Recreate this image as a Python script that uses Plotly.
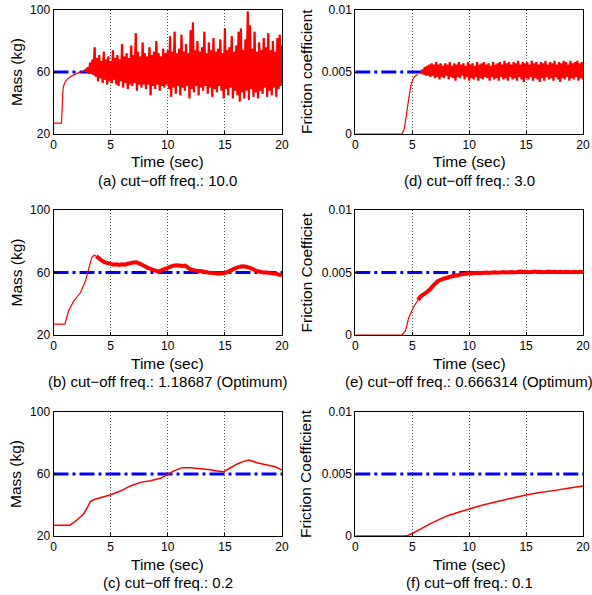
import plotly.graph_objects as go
from plotly.subplots import make_subplots

# (a) mass, cut-off 10.0 : smooth start, then noisy peaks / troughs every 0.2 s from 2.8 s
a_t = [0, 0.7, 0.75, 0.8, 0.85, 0.95, 1.1, 1.3, 1.5, 1.8, 2.1, 2.4, 2.7]
a_mass = [27, 27, 35, 45, 50, 52.5, 54.5, 56, 57, 58.3, 59.3, 60, 60.8]
a_hi = [62, 63, 66, 68, 76, 69, 71, 67, 73, 68, 70, 67, 74, 69, 71, 68, 78, 70, 72, 69,
        77, 71, 85, 73, 70, 79, 72, 70, 76, 71, 73, 80, 72, 70, 75, 72, 74, 83, 73, 86,
        72, 75, 84, 73, 78, 72, 87, 92, 74, 80, 73, 76, 86, 72, 79, 74, 82, 73, 75, 81,
        72, 88, 74, 76, 83, 73, 77, 86, 88, 74, 81, 99, 90, 75, 86, 73, 79, 74, 82, 76,
        85, 74, 80, 73, 82, 84, 77]
a_lo = [60, 59, 59, 58, 57, 54, 56, 53, 55, 52, 54, 53, 55, 52, 51, 54, 50, 53, 49, 52,
        51, 53, 48, 52, 50, 52, 49, 52, 45, 51, 49, 52, 48, 51, 50, 52, 49, 44, 50, 46,
        51, 45, 50, 48, 51, 43, 49, 47, 51, 45, 50, 48, 51, 46, 50, 44, 49, 47, 51, 48,
        43, 49, 45, 50, 43, 48, 45, 41, 47, 43, 48, 42, 49, 44, 47, 43, 48, 46, 50, 44,
        48, 45, 50, 44, 49, 51, 52]

# (b) mass, cut-off 1.18687
b_t = [0, 1.0, 1.3, 1.75, 2.35, 2.8, 3.1, 3.35, 3.55, 3.75]
b_mass = [27, 27, 35, 41.5, 47, 54.5, 63, 69.5, 71, 70.5]
b_noisy = [70.5, 69, 67.5, 66.5, 66, 65.5, 65, 65.3, 64.8, 65.2, 65, 65.6, 66, 66.4, 66.6,
           65.8, 65, 64, 63, 62.4, 61.6, 61, 60.8, 61.5, 62.4, 63, 63.8, 64.4, 64.6, 64.5,
           64.2, 64.4, 63.2, 62, 61.5, 61.2, 61, 60.8, 60.4, 60, 59.8, 59.6, 59.4, 59.2,
           59.3, 59.8, 60.4, 61.2, 62.2, 63, 63.6, 64, 63.8, 63.4, 62.8, 62, 61, 60.6,
           60.2, 60, 60, 59.6, 59.4, 59.2, 58.6, 58.4]

# (c) mass, cut-off 0.2
c_t = [0, 1.45, 2.05, 2.63, 2.92, 3.22, 3.45, 3.65, 4.24, 4.97, 5.85, 6.73, 7.6, 8.48, 9.36,
       9.94, 10.5, 11.26, 12.0, 12.87, 13.74, 14.3, 14.9, 15.35, 16.08, 16.6, 17.1, 17.8,
       18.7, 19.4, 20.0]
c_mass = [27, 27, 30.3, 34.2, 37.8, 42.1, 43.2, 43.7, 45, 46.5, 49, 52.3, 54.6, 55.7, 57.2,
          59.4, 61.9, 64.1, 64.1, 63.4, 62.8, 61.9, 61.5, 63.4, 66.5, 68, 69, 67.3, 65.8,
          64.7, 62.6]

# (d) friction, cut-off 3.0 : noisy peaks / troughs every 0.2 s from 5.7 s
d_t = [0, 4.1, 4.3, 4.5, 4.7, 4.9, 5.1, 5.3, 5.5]
d_fric = [0, 0, 0.0004, 0.0016, 0.0029, 0.0040, 0.0045, 0.0047, 0.0048]
d_hi = [0.0050, 0.0052, 0.0054, 0.0055, 0.0056, 0.0057, 0.0056, 0.0058, 0.0056, 0.0057,
        0.0055, 0.0057, 0.0056, 0.0058, 0.0055, 0.0057, 0.0056, 0.0058, 0.0056, 0.0057,
        0.0055, 0.0058, 0.0056, 0.0057, 0.0055, 0.0058, 0.0056, 0.0057, 0.0058, 0.0056,
        0.0057, 0.0055, 0.0058, 0.0056, 0.0057, 0.0058, 0.0056, 0.0059, 0.0057, 0.0058,
        0.0056, 0.0058, 0.0057, 0.0059, 0.0056, 0.0058, 0.0057, 0.0058, 0.0056, 0.0059,
        0.0057, 0.0058, 0.0056, 0.0058, 0.0057, 0.0059, 0.0056, 0.0058, 0.0057, 0.0059,
        0.0056, 0.0058, 0.0057, 0.0059, 0.0058, 0.0056, 0.0059, 0.0057, 0.0058, 0.0059,
        0.0057, 0.0058]
d_lo = [0.0049, 0.0048, 0.0047, 0.0047, 0.0046, 0.0047, 0.0045, 0.0046, 0.0044, 0.0046,
        0.0045, 0.0047, 0.0044, 0.0046, 0.0045, 0.0043, 0.0046, 0.0045, 0.0047, 0.0044,
        0.0046, 0.0043, 0.0045, 0.0044, 0.0046, 0.0043, 0.0045, 0.0044, 0.0046, 0.0045,
        0.0043, 0.0046, 0.0044, 0.0045, 0.0043, 0.0046, 0.0044, 0.0045, 0.0043, 0.0046,
        0.0044, 0.0045, 0.0043, 0.0046, 0.0044, 0.0042, 0.0045, 0.0044, 0.0046, 0.0043,
        0.0045, 0.0044, 0.0042, 0.0045, 0.0043, 0.0046, 0.0044, 0.0045, 0.0043, 0.0046,
        0.0044, 0.0042, 0.0045, 0.0044, 0.0046, 0.0043, 0.0045, 0.0044, 0.0046, 0.0043,
        0.0045, 0.0044]

# (e) friction, cut-off 0.666314
e_t = [0, 4.1, 4.4, 4.7, 5.1, 5.5]
e_fric = [0, 0, 0.0003, 0.0014, 0.0022, 0.0028]
e_noisy = [0.0028, 0.0031, 0.00325, 0.0034, 0.0036, 0.00385, 0.0041, 0.0043, 0.00442,
           0.0045, 0.00456, 0.00464, 0.0047, 0.00474, 0.00478, 0.00484, 0.00487, 0.0049,
           0.00494, 0.00492, 0.00496, 0.00497, 0.00495, 0.00498, 0.005, 0.00497, 0.005,
           0.00502, 0.00499, 0.00501, 0.00503, 0.005, 0.00502, 0.00504, 0.00501, 0.00505,
           0.00507, 0.00504, 0.00506, 0.00503, 0.00505, 0.00507, 0.00504, 0.00506, 0.00503,
           0.00505, 0.00507, 0.00504, 0.00506, 0.00502, 0.00505, 0.00503, 0.00506, 0.00504,
           0.00502, 0.00505, 0.00503, 0.00506, 0.00504]

# (f) friction, cut-off 0.1
f_t = [0, 4.2, 4.6, 5.0, 5.8, 6.6, 7.3, 8.1, 9.0, 10.0, 11.2, 12.4, 13.7, 15.0, 16.2, 17.4,
       18.7, 20.0]
f_fric = [0, 0, 0.00005, 0.0002, 0.0006, 0.001, 0.0013, 0.00164, 0.0019, 0.00218, 0.0025,
          0.00277, 0.00305, 0.00331, 0.0035, 0.00366, 0.00385, 0.00404]

captions = ["(a) cut\u2212off freq.: 10.0", "(d) cut\u2212off freq.: 3.0",
            "(b) cut\u2212off freq.: 1.18687 (Optimum)", "(e) cut\u2212off freq.: 0.666314 (Optimum)",
            "(c) cut\u2212off freq.: 0.2", "(f) cut\u2212off freq.: 0.1"]
ytitles = ["Mass (kg)", "Friction coefficient", "Mass (kg)", "Friction Coefficiet",
           "Mass (kg)", "Friction Coefficient"]
mass_ref = 60
fric_ref = 0.005

W, H = 592, 595
FONT = "Liberation Sans, Arial, sans-serif"
RED = "#ff0000"
BLUE = "#0000ff"


def zigzag(t0, step, hi, lo):
    xs, ys = [], []
    for i, (h, l) in enumerate(zip(hi, lo)):
        t = t0 + i * step
        xs += [t, t + step / 2]
        ys += [h, l]
    return xs, ys


def steps(t0, step, vals):
    return [t0 + i * step for i in range(len(vals))]


fig = make_subplots(rows=3, cols=2)

# pixel boxes of the six axes: (left, right, top, bottom)
cols_px = [(53.5, 282), (355.3, 583)]
rows_px = [(10, 134), (210, 335), (412, 536)]


def ref_line(row, col, val):
    fig.add_trace(go.Scatter(x=[0, 20], y=[val, val], mode="lines",
                             line=dict(color=BLUE, width=3, dash="15px,4px,3px,4px")),
                  row=row, col=col)


def red(row, col, x, y, width=1.2):
    fig.add_trace(go.Scatter(x=x, y=y, mode="lines",
                             line=dict(color=RED, width=width, simplify=False)),
                  row=row, col=col)


# (a)
ref_line(1, 1, mass_ref)
zx, zy = zigzag(2.8, 0.2, a_hi, a_lo)
red(1, 1, a_t + zx, a_mass + zy, 1.2)
red(1, 1, zx, zy, 2.2)

# (d)
ref_line(1, 2, fric_ref)
red(1, 2, d_t, d_fric, 1.2)
zx, zy = zigzag(5.7, 0.2, d_hi, d_lo)
red(1, 2, zx, zy, 2.2)

# (b)
ref_line(2, 1, mass_ref)
red(2, 1, b_t, b_mass, 1.2)
red(2, 1, steps(3.75, 0.25, b_noisy), b_noisy, 4)

# (e)
ref_line(2, 2, fric_ref)
red(2, 2, e_t, e_fric, 1.2)
red(2, 2, steps(5.5, 0.25, e_noisy), e_noisy, 4)

# (c)
ref_line(3, 1, mass_ref)
red(3, 1, c_t, c_mass, 1.5)

# (f)
ref_line(3, 2, fric_ref)
red(3, 2, f_t, f_fric, 1.5)

annotations = []
for r in range(3):
    for c in range(2):
        n = r * 2 + c + 1
        x0, x1 = cols_px[c]
        y0, y1 = rows_px[r]
        xa = "xaxis" if n == 1 else "xaxis%d" % n
        ya = "yaxis" if n == 1 else "yaxis%d" % n
        if c == 0:
            yk = dict(range=[20, 100], tickvals=[20, 60, 100])
        else:
            yk = dict(range=[0, 0.01], tickvals=[0, 0.005, 0.01], ticktext=["0", "0.005", "0.01"])
        fig.layout[xa].update(domain=[x0 / W, x1 / W], range=[0, 20], tickvals=[0, 5, 10, 15, 20],
                              showgrid=True, gridcolor="#555", griddash="1px,2px", gridwidth=1,
                              showline=True, linecolor="black", linewidth=1, mirror=True,
                              ticks="inside", ticklen=3, tickcolor="black", zeroline=False,
                              automargin=False,
                              tickfont=dict(size=12, color="black", family=FONT))
        fig.layout[ya].update(domain=[1 - y1 / H, 1 - y0 / H], showgrid=False,
                              showline=True, linecolor="black", linewidth=1, mirror=True,
                              ticks="inside", ticklen=3, tickcolor="black", zeroline=False,
                              automargin=False,
                              tickfont=dict(size=12, color="black", family=FONT), **yk)
        xc = (x0 + x1) / 2
        annotations.append(dict(text="Time (sec)", x=xc / W, y=1 - (y1 + 28) / H, xref="paper",
                                yref="paper", showarrow=False, xanchor="center", yanchor="middle",
                                font=dict(size=15.5, color="black", family=FONT)))
        annotations.append(dict(text=captions[n - 1], x=xc / W, y=1 - (y1 + 46.5) / H,
                                xref="paper", yref="paper", showarrow=False, xanchor="center",
                                yanchor="middle", font=dict(size=15, color="black", family=FONT)))
        annotations.append(dict(text=ytitles[n - 1], x=(16 if c == 0 else 306) / W,
                                y=1 - (y0 + y1) / 2 / H, xref="paper", yref="paper",
                                showarrow=False, textangle=-90, xanchor="center",
                                yanchor="middle", font=dict(size=15.5, color="black", family=FONT)))

fig.update_layout(width=W, height=H, margin=dict(l=0, r=0, t=0, b=0), showlegend=False,
                  plot_bgcolor="white", paper_bgcolor="white", annotations=annotations,
                  font=dict(family=FONT, color="black"))

# the page's default body margin would push the figure 8 px off the window
fig.write_html("out.html", config={"displayModeBar": False},
               post_script="document.body.style.margin='0';document.body.style.overflow='hidden';")
